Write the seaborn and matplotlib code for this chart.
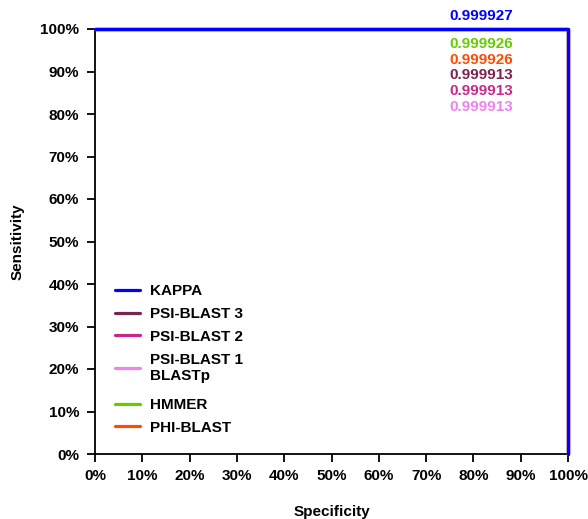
import matplotlib
matplotlib.use("Agg")
import matplotlib.pyplot as plt
import seaborn as sns
import pandas as pd
from matplotlib.ticker import PercentFormatter

# ROC points for each search method (fractions)
methods = ["KAPPA", "PSI-BLAST 3", "PSI-BLAST 2", "PSI-BLAST 1\nBLASTp", "HMMER", "PHI-BLAST"]
colors = ["#0000ff", "#7b2450", "#c8288a", "#ee82ee", "#66cc00", "#ff4a00"]
specificity = [0.0, 1.0, 1.0]
sensitivity = [1.0, 1.0, 0.0]

# Area-under-curve values, listed in the order they are printed
auc_methods = ["KAPPA", "HMMER", "PHI-BLAST", "PSI-BLAST 3", "PSI-BLAST 2", "PSI-BLAST 1\nBLASTp"]
auc_values = [0.999927, 0.999926, 0.999926, 0.999913, 0.999913, 0.999913]

sns.set_theme(style="white")
plt.rcParams["font.family"] = ["Liberation Sans", "DejaVu Sans"]
plt.rcParams["font.weight"] = "bold"
plt.rcParams["text.color"] = "black"
plt.rcParams["axes.labelcolor"] = "black"
plt.rcParams["xtick.color"] = "black"
plt.rcParams["ytick.color"] = "black"

fig = plt.figure(figsize=(5.88, 5.19), dpi=100)
ax = fig.add_axes([95 / 588, 1 - 454 / 519, 473 / 588, 425 / 519])

color_of = dict(zip(methods, colors))
n = len(methods)
for i, m in enumerate(methods):
    df = pd.DataFrame({"Specificity": specificity, "Sensitivity": sensitivity})
    sns.lineplot(data=df, x="Specificity", y="Sensitivity", sort=False, estimator=None,
                 color=color_of[m], linewidth=2.3, label=m, ax=ax,
                 zorder=10 + (n - i), clip_on=False)

ax.set_xlim(0, 1)
ax.set_ylim(0, 1)
ticks = [i / 10 for i in range(11)]
ax.set_xticks(ticks)
ax.set_yticks(ticks)
ax.xaxis.set_major_formatter(PercentFormatter(1.0, decimals=0))
ax.yaxis.set_major_formatter(PercentFormatter(1.0, decimals=0))
ax.tick_params(axis="both", direction="out", length=6, width=1.3, colors="black",
               labelcolor="black", labelsize=11, bottom=True, left=True)
ax.tick_params(axis="y", pad=5.5)
ax.tick_params(axis="x", pad=4.5)
for lab in ax.get_xticklabels() + ax.get_yticklabels():
    lab.set_fontweight("bold")

for side in ["top", "right"]:
    ax.spines[side].set_visible(False)
for side in ["left", "bottom"]:
    ax.spines[side].set_color("black")
    ax.spines[side].set_linewidth(1.3)

ax.set_xlabel("Specificity", fontsize=11, fontweight="bold", labelpad=16, color="black")
ax.set_ylabel("Sensitivity", fontsize=11, fontweight="bold", labelpad=11, color="black")

# AUC annotations
label_y = [1.031, 0.965, 0.928, 0.891, 0.853, 0.816]
for m, v, yy in zip(auc_methods, auc_values, label_y):
    ax.text(0.816, yy, f"{v:.6f}", color=color_of[m], fontsize=11, fontweight="bold",
            ha="center", va="center", clip_on=False)

# Legend in two blocks so the two-line entry keeps extra room below it
handles, labels = ax.get_legend_handles_labels()
leg_kw = dict(loc="upper left", frameon=False, fontsize=11, handlelength=1.65,
              handletextpad=0.65, labelspacing=0.58, borderaxespad=0, borderpad=0)
leg1 = ax.legend(handles[:4], labels[:4], bbox_to_anchor=(0.042, 0.40), **leg_kw)
ax.add_artist(leg1)
leg2 = ax.legend(handles[4:], labels[4:], bbox_to_anchor=(0.042, 0.132), **leg_kw)
for leg in (leg1, leg2):
    for t in leg.get_texts():
        t.set_fontweight("bold")
        t.set_color("black")
    for h in leg.get_lines():
        h.set_linewidth(2.3)

fig.savefig("out.png", dpi=100)
